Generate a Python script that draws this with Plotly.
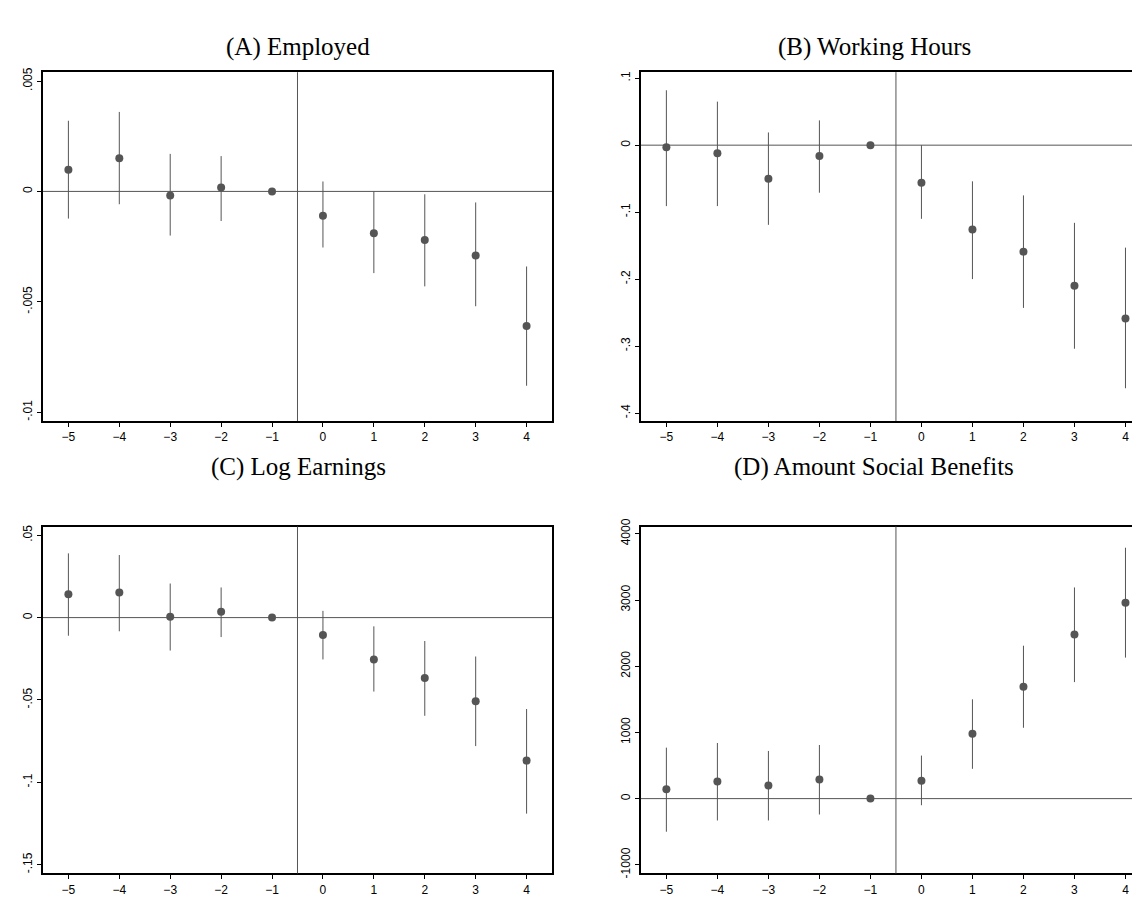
import plotly.graph_objects as go

x = [-5, -4, -3, -2, -1, 0, 1, 2, 3, 4]

emp = [0.00098, 0.0015, -0.00018, 0.00018, 0.0, -0.0011, -0.0019, -0.0022, -0.0029, -0.0061]
emp_lo = [-0.00123, -0.00058, -0.0020, -0.00134, 0.0, -0.00254, -0.0037, -0.0043, -0.0052, -0.0088]
emp_hi = [0.0032, 0.0036, 0.0017, 0.0016, 0.0, 0.00045, 0.0, -0.00013, -0.0005, -0.0034]

hrs = [-0.003, -0.012, -0.05, -0.016, 0.0, -0.056, -0.126, -0.159, -0.21, -0.259]
hrs_lo = [-0.091, -0.091, -0.119, -0.071, 0.0, -0.11, -0.2, -0.243, -0.304, -0.363]
hrs_hi = [0.082, 0.065, 0.019, 0.037, 0.0, 0.0, -0.054, -0.075, -0.116, -0.153]

ern = [0.0142, 0.0153, 0.0006, 0.0035, 0.0, -0.0106, -0.0254, -0.0366, -0.0508, -0.0868]
ern_lo = [-0.011, -0.0083, -0.020, -0.0118, 0.0, -0.0254, -0.0449, -0.0596, -0.078, -0.119]
ern_hi = [0.039, 0.038, 0.0207, 0.0183, 0.0, 0.0041, -0.0053, -0.0142, -0.0236, -0.0555]

ben = [140, 260, 200, 290, 0, 270, 980, 1690, 2480, 2960]
ben_lo = [-500, -330, -330, -240, 0, -100, 450, 1070, 1760, 2130]
ben_hi = [770, 840, 720, 810, 0, 650, 1500, 2310, 3190, 3790]

titles = ["(A) Employed", "(B) Working Hours", "(C) Log Earnings", "(D) Amount Social Benefits"]
yticks = [
    ([0.005, 0, -0.005, -0.01], [".005", "0", "-.005", "-.01"], [-0.0104, 0.0054]),
    ([0.1, 0, -0.1, -0.2, -0.3, -0.4], [".1", "0", "-.1", "-.2", "-.3", "-.4"], [-0.412, 0.109]),
    ([0.05, 0, -0.05, -0.1, -0.15], [".05", "0", "-.05", "-.1", "-.15"], [-0.1553, 0.0553]),
    ([4000, 3000, 2000, 1000, 0, -1000], ["4000", "3000", "2000", "1000", "0", "-1000"], [-1130, 4110]),
]
series = [(emp, emp_lo, emp_hi), (hrs, hrs_lo, hrs_hi), (ern, ern_lo, ern_hi), (ben, ben_lo, ben_hi)]

W, H = 1140, 900
def px(a, b):
    return [a / W, min(1.0, b / W)]
def py(top, bot):
    return [1 - bot / H, 1 - top / H]

xdom = [px(35, 545), px(634, 1145), px(35, 545), px(634, 1145)]
ydom = [py(57, 411), py(57, 411), py(518, 870), py(518, 870)]
title_y = [31, 31, 458, 458]
gray = "#555555"

fig = go.Figure()
for i, (y, lo, hi) in enumerate(series):
    n = "" if i == 0 else str(i + 1)
    fig.add_trace(go.Scatter(
        x=x, y=y, mode="markers", xaxis="x" + n, yaxis="y" + n,
        marker=dict(color=gray, size=8),
        error_y=dict(type="data", symmetric=False,
                     array=[h - v for h, v in zip(hi, y)],
                     arrayminus=[v - l for v, l in zip(y, lo)],
                     width=0, thickness=1, color=gray),
        showlegend=False, cliponaxis=False))
    tv, tt, rng = yticks[i]
    xr_range = [-5.5, 4.5] if i % 2 == 0 else [-5.5, 4.5 - (1145 - 1140) / 51.2]
    common = dict(showline=True, linecolor="black", linewidth=1.5, mirror=True,
                  ticks="outside", ticklen=4, tickcolor="black", showgrid=False,
                  zeroline=False, tickfont=dict(family="Liberation Sans", size=12, color="black"))
    fig.layout["xaxis" + n] = dict(domain=xdom[i], range=xr_range, tickvals=x,
                                   anchor="y" + n, **common)
    fig.layout["yaxis" + n] = dict(domain=ydom[i], range=rng, tickvals=tv, ticktext=tt,
                                   tickangle=-90, anchor="x" + n, **common)
    xr = "x" + n
    yr = "y" + n
    fig.add_shape(type="line", xref=xr, yref=yr + " domain", x0=-0.5, x1=-0.5, y0=0, y1=1,
                  line=dict(color=gray, width=1))
    fig.add_shape(type="line", xref=xr + " domain", yref=yr, x0=0, x1=1, y0=0, y1=0,
                  line=dict(color=gray, width=1))
    cx = (291 if i % 2 == 0 else 868)
    fig.add_annotation(text=titles[i], xref="paper", yref="paper",
                       x=cx / W, y=1 - title_y[i] / H,
                       xanchor="center", yanchor="middle", showarrow=False,
                       font=dict(family="Liberation Serif", size=25, color="black"))

fig.update_layout(width=W, height=H, margin=dict(l=0, r=0, t=0, b=0),
                  plot_bgcolor="white", paper_bgcolor="white")
fig.write_html("out.html")
